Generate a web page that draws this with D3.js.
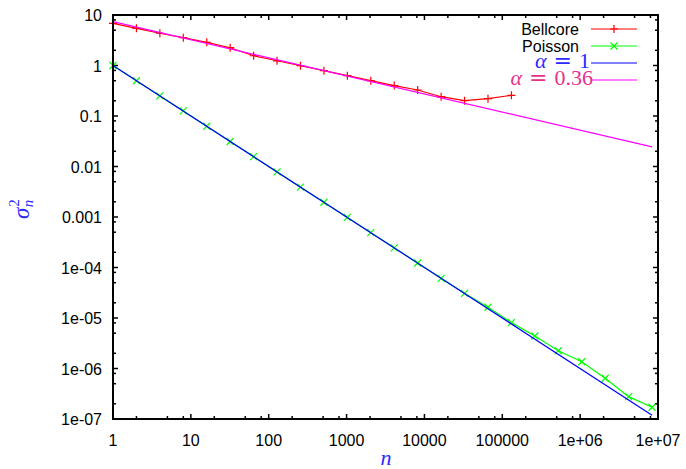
<!DOCTYPE html>
<html>
<head>
<meta charset="utf-8">
<script src="https://cdn.jsdelivr.net/npm/d3@7"></script>
<style>
  body { margin: 0; background: #fff; }
  svg { display: block; }
</style>
</head>
<body>
<div id="chart"></div>
<script>
// aggregation level n (powers of two) and variance of the normalised counts
const bellcoreN = [1, 2, 4, 8, 16, 32, 64, 128, 256, 512, 1024, 2048, 4096, 8192, 16384, 32768, 65536, 131072]
const bellcoreVar = [6.85, 5.45, 4.35, 3.55, 2.88, 2.25, 1.56, 1.24, 0.99, 0.79, 0.63, 0.50, 0.40, 0.327, 0.241, 0.201, 0.220, 0.257]

const poissonN = [1, 2, 4, 8, 16, 32, 64, 128, 256, 512, 1024, 2048, 4096, 8192, 16384, 32768, 65536, 131072, 262144, 524288, 1048576, 2097152, 4194304, 8388608]
const poissonVar = [1.0, 0.50, 0.25, 0.126, 0.0627, 0.0312, 0.0157, 0.0078, 0.0039, 0.00196, 0.00098, 0.00049, 0.000245, 0.000123,
  6.1e-5, 3.08e-5, 1.63e-5, 8.1e-6, 4.4e-6, 2.25e-6, 1.36e-6, 6.4e-7, 2.77e-7, 1.71e-7]

// reference slopes, end points only
const alpha1N = [1, 8388608]
const alpha1Var = [1, 1.19e-7]
const alpha036N = [1, 8388608]
const alpha036Var = [7.4, 0.0245]

const xTicks = [1, 10, 100, 1000, 10000, 100000, 1e6, 1e7]
const xTickLabels = ["1", "10", "100", "1000", "10000", "100000", "1e+06", "1e+07"]
const yTicks = [10, 1, 0.1, 0.01, 0.001, 1e-4, 1e-5, 1e-6, 1e-7]
const yTickLabels = ["10", "1", "0.1", "0.01", "0.001", "1e-04", "1e-05", "1e-06", "1e-07"]

const W = 686, H = 469
const MARGIN = { TOP: 15, BOTTOM: 50, LEFT: 113, RIGHT: 28 }
const WIDTH = W - MARGIN.LEFT - MARGIN.RIGHT
const HEIGHT = H - MARGIN.TOP - MARGIN.BOTTOM

const svg = d3.select("#chart").append("svg")
    .attr("width", W)
    .attr("height", H)
const g = svg.append("g")
    .attr("transform", `translate(${MARGIN.LEFT},${MARGIN.TOP})`)

const x = d3.scaleLog().domain([1, 1e7]).range([0, WIDTH])
const y = d3.scaleLog().domain([1e-7, 10]).range([HEIGHT, 0])

// minor ticks like gnuplot draws them here: 2, 5, 8 of each decade
const minors = (lo, hi) => {
    const out = []
    for (let e = lo; e < hi; e++) [2, 5, 8].forEach(m => out.push(m * Math.pow(10, e)))
    return out
}
const xMinor = minors(0, 7)
const yMinor = minors(-7, 1)

const axisG = g.append("g").attr("stroke", "#000").attr("stroke-width", 1.5)
const MAJ = 5, MIN = 3
xTicks.forEach(t => {
    axisG.append("line").attr("x1", x(t)).attr("x2", x(t)).attr("y1", HEIGHT).attr("y2", HEIGHT - MAJ)
    axisG.append("line").attr("x1", x(t)).attr("x2", x(t)).attr("y1", 0).attr("y2", MAJ)
})
xMinor.forEach(t => {
    axisG.append("line").attr("x1", x(t)).attr("x2", x(t)).attr("y1", HEIGHT).attr("y2", HEIGHT - MIN)
    axisG.append("line").attr("x1", x(t)).attr("x2", x(t)).attr("y1", 0).attr("y2", MIN)
})
yTicks.forEach(t => {
    axisG.append("line").attr("y1", y(t)).attr("y2", y(t)).attr("x1", 0).attr("x2", MAJ)
    axisG.append("line").attr("y1", y(t)).attr("y2", y(t)).attr("x1", WIDTH).attr("x2", WIDTH - MAJ)
})
yMinor.forEach(t => {
    axisG.append("line").attr("y1", y(t)).attr("y2", y(t)).attr("x1", 0).attr("x2", MIN)
    axisG.append("line").attr("y1", y(t)).attr("y2", y(t)).attr("x1", WIDTH).attr("x2", WIDTH - MIN)
})

// tick labels
g.append("g").selectAll("text")
    .data(xTicks)
    .enter().append("text")
        .attr("x", d => x(d))
        .attr("y", HEIGHT + 27)
        .attr("text-anchor", "middle")
        .attr("font-family", "Liberation Sans, Arial, sans-serif")
        .attr("font-size", 16)
        .text((d, i) => xTickLabels[i])

g.append("g").selectAll("text")
    .data(yTicks)
    .enter().append("text")
        .attr("x", -11)
        .attr("y", d => y(d) + 6)
        .attr("text-anchor", "end")
        .attr("font-family", "Liberation Sans, Arial, sans-serif")
        .attr("font-size", 16)
        .text((d, i) => yTickLabels[i])

// axis titles
svg.append("text")
    .attr("x", 386)
    .attr("y", 465)
    .attr("text-anchor", "middle")
    .attr("font-family", "Liberation Serif, serif")
    .attr("font-style", "italic")
    .attr("font-size", 22)
    .attr("fill", "#2a2aff")
    .text("n")

const yl = svg.append("text")
    .attr("transform", "translate(29,219) rotate(-90)")
    .attr("font-family", "Liberation Serif, serif")
    .attr("font-style", "italic")
    .attr("font-size", 23)
    .attr("fill", "#2a2aff")
yl.append("tspan").text("σ")
yl.append("tspan").attr("font-size", 15).attr("font-style", "normal").attr("dx", 1).attr("dy", -10).text("2")
yl.append("tspan").attr("font-size", 15).attr("dx", -8).attr("dy", 14).text("n")

// series
const line = d3.line().x(d => x(d[0])).y(d => y(d[1]))
const zip = (a, b) => a.map((v, i) => [v, b[i]])

const bellData = zip(bellcoreN, bellcoreVar)
const poisData = zip(poissonN, poissonVar)

const plot = g.append("g")
plot.append("path").datum(bellData).attr("d", line)
    .attr("fill", "none").attr("stroke", "#ff0000").attr("stroke-width", 1.2)
plot.append("g").selectAll("path").data(bellData).enter().append("path")
    .attr("d", d => `M${x(d[0]) - 4},${y(d[1])}h8M${x(d[0])},${y(d[1]) - 4}v8`)
    .attr("stroke", "#ff0000").attr("stroke-width", 1.2)

plot.append("path").datum(poisData).attr("d", line)
    .attr("fill", "none").attr("stroke", "#00ff00").attr("stroke-width", 1.2)
plot.append("g").selectAll("path").data(poisData).enter().append("path")
    .attr("d", d => `M${x(d[0]) - 3.5},${y(d[1]) - 3.5}l7,7M${x(d[0]) - 3.5},${y(d[1]) + 3.5}l7,-7`)
    .attr("stroke", "#00ff00").attr("stroke-width", 1.2)

plot.append("path").datum(zip(alpha1N, alpha1Var)).attr("d", line)
    .attr("fill", "none").attr("stroke", "#0000ff").attr("stroke-width", 1.2)
plot.append("path").datum(zip(alpha036N, alpha036Var)).attr("d", line)
    .attr("fill", "none").attr("stroke", "#ff00ff").attr("stroke-width", 1.2)

// border
g.append("rect")
    .attr("width", WIDTH).attr("height", HEIGHT)
    .attr("fill", "none").attr("stroke", "#000").attr("stroke-width", 2)

// key
const key = [
    { label: "Bellcore", color: "#ff0000", mark: "plus", y: 29, tx: 579, font: "sans", fill: "#000" },
    { label: "Poisson", color: "#00ff00", mark: "cross", y: 46, tx: 579, font: "sans", fill: "#000" },
    { label: "1", color: "#0000ff", mark: null, y: 63, tx: 590, font: "serif", fill: "#2a2aff" },
    { label: "0.36", color: "#ff00ff", mark: null, y: 80, tx: 593, font: "serif", fill: "#e8318c" }
]
const kg = svg.append("g")
key.forEach(k => {
    kg.append("line").attr("x1", 591).attr("x2", 637).attr("y1", k.y).attr("y2", k.y)
        .attr("stroke", k.color).attr("stroke-width", 1.2)
    if (k.mark === "plus") {
        kg.append("path").attr("d", `M610,${k.y}h8M614,${k.y - 4}v8`).attr("stroke", k.color).attr("stroke-width", 1.2)
    } else if (k.mark === "cross") {
        kg.append("path").attr("d", `M610.5,${k.y - 3.5}l7,7M610.5,${k.y + 3.5}l7,-7`).attr("stroke", k.color).attr("stroke-width", 1.2)
    }
    if (k.font === "sans") {
        kg.append("text").attr("x", k.tx).attr("y", k.y + 6)
            .attr("text-anchor", "end")
            .attr("font-family", "Liberation Sans, Arial, sans-serif")
            .attr("font-size", 16)
            .attr("fill", k.fill)
            .text(k.label)
    } else {
        const t = kg.append("text").attr("x", k.tx).attr("y", k.y + 5)
            .attr("text-anchor", "end")
            .attr("font-family", "Liberation Serif, serif")
            .attr("font-size", 22)
            .attr("fill", k.fill)
        t.append("tspan").attr("font-style", "italic").text("α")
        t.append("tspan").attr("dx", 7).attr("font-family", "DejaVu Serif, serif").attr("font-weight", 300).text("=")
        t.append("tspan").attr("dx", 7).text(k.label)
    }
})
</script>
</body>
</html>
